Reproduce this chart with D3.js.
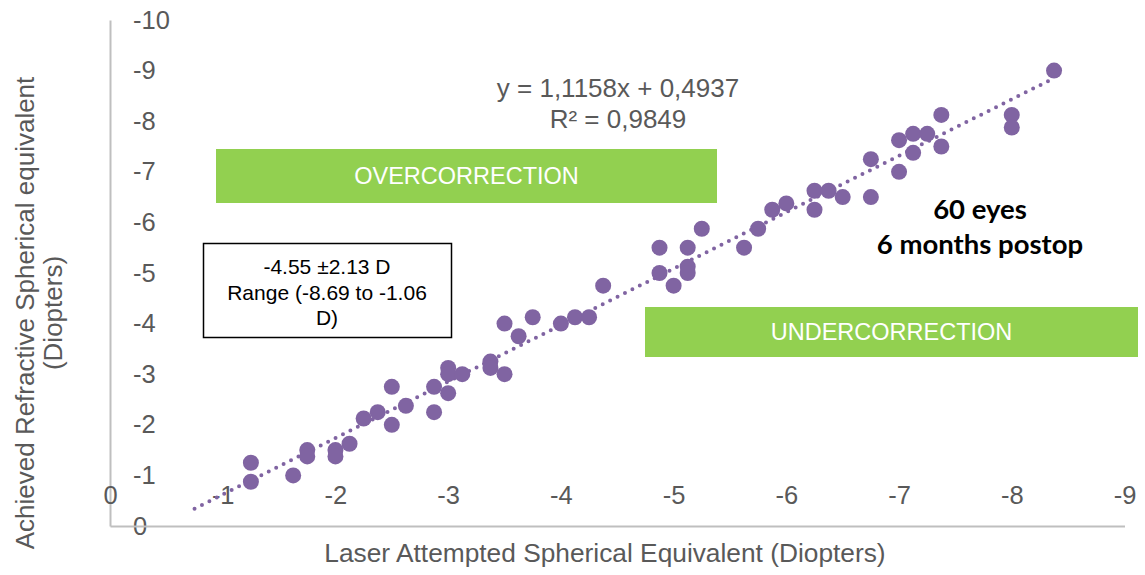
<!DOCTYPE html>
<html>
<head>
<meta charset="utf-8">
<script src="https://cdn.jsdelivr.net/npm/d3@7"></script>
<style>
  html, body { margin: 0; padding: 0; background: #fff; }
  svg { display: block; }
</style>
</head>
<body>
<svg id="chart" width="1145" height="575"></svg>
<script>
// Attempted vs achieved spherical equivalent (D), one entry per eye
const attempted = [-1.25,-1.25,-1.625,-1.75,-1.75,-2,-2,-2.125,-2.25,-2.375,-2.5,-2.5,-2.625,-2.875,-2.875,-3,-3,-3,-3.125,-3.375,-3.375,-3.5,-3.5,-3.625,-3.75,-4,-4.125,-4.25,-4.375,-4.875,-4.875,-5,-5.125,-5.125,-5.125,-5.25,-5.625,-5.75,-5.875,-6,-6.25,-6.25,-6.375,-6.5,-6.75,-6.75,-7,-7,-7.125,-7.125,-7.25,-7.375,-7.375,-8,-8,-8.375];
const achieved  = [-1.25,-0.875,-1,-1.5,-1.375,-1.5,-1.375,-1.625,-2.125,-2.25,-2.75,-2,-2.375,-2.75,-2.25,-3.125,-3,-2.625,-3,-3.25,-3.125,-3,-4,-3.75,-4.125,-4,-4.125,-4.125,-4.75,-5.5,-5,-4.75,-5.5,-5.125,-5,-5.875,-5.5,-5.875,-6.25,-6.375,-6.625,-6.25,-6.625,-6.5,-7.25,-6.5,-7.625,-7,-7.75,-7.375,-7.75,-8.125,-7.5,-8.125,-7.875,-9];

// Axis ticks
const xTicks = [0,-1,-2,-3,-4,-5,-6,-7,-8,-9];
const yTicks = [0,-1,-2,-3,-4,-5,-6,-7,-8,-9,-10];

// Linear trend line
const trendSlope = 1.1158;
const trendIntercept = 0.4937;
const trendRange = [-0.75, -8.375];

// Text content
const equationLines = ["y = 1,1158x + 0,4937", "R² = 0,9849"];
const statsLines = ["-4.55 ±2.13 D", "Range (-8.69 to -1.06", "D)"];
const noteLines = ["60 eyes", "6 months postop"];
const xTitle = "Laser Attempted Spherical Equivalent (Diopters)";
const yTitleLines = ["Achieved Refractive Spherical equivalent", "(Diopters)"];

const purple = "#8064A2";
const green = "#92D050";
const grey = "#595959";
const axisGrey = "#BFBFBF";
const sans = "'Liberation Sans', Arial, sans-serif";

const svg = d3.select("#chart");

const x = d3.scaleLinear().domain([0, -9]).range([110, 1124.5]);
const y = d3.scaleLinear().domain([0, -10]).range([526, 20]);

// Plain hyphen-minus labels
const fmt = d => String(d);

// Y axis: line at x=0 with labels on its right side
const yAxis = svg.append("g")
  .attr("transform", `translate(${x(0)},0)`)
  .call(d3.axisRight(y).tickValues(yTicks).tickFormat(fmt)
    .tickSizeInner(0).tickSizeOuter(0).tickPadding(23));

// X axis: line at y=0 with labels drawn above it
const xAxis = svg.append("g")
  .attr("transform", `translate(0,${y(0)})`)
  .call(d3.axisTop(x).tickValues(xTicks).tickFormat(fmt)
    .tickSizeInner(0).tickSizeOuter(0).tickPadding(22));

[yAxis, xAxis].forEach(g => {
  g.select(".domain").attr("stroke", axisGrey).attr("stroke-width", 2);
  g.selectAll(".tick line").remove();
  g.selectAll(".tick text")
    .attr("fill", grey)
    .style("font-family", sans)
    .style("font-size", "25.5px");
});

// Axis titles
svg.append("text")
  .attr("x", 605).attr("y", 562)
  .attr("text-anchor", "middle")
  .attr("fill", grey)
  .style("font-family", sans).style("font-size", "26.3px")
  .text(xTitle);

const yTitle = svg.append("text")
  .attr("transform", "translate(0,313) rotate(-90)")
  .attr("text-anchor", "middle")
  .attr("fill", grey)
  .style("font-family", sans).style("font-size", "26px");
yTitle.selectAll("tspan").data(yTitleLines).join("tspan")
  .attr("x", 0)
  .attr("y", (d, i) => 34 + i * 27.5)
  .text(d => d);

// Region labels
const regions = [
  { label: "OVERCORRECTION", x0: 216, x1: 717, y0: 149, y1: 203 },
  { label: "UNDERCORRECTION", x0: 645, x1: 1138, y0: 307, y1: 357 }
];
regions.forEach(r => {
  svg.append("rect")
    .attr("x", r.x0).attr("y", r.y0)
    .attr("width", r.x1 - r.x0).attr("height", r.y1 - r.y0)
    .attr("fill", green);
  svg.append("text")
    .attr("x", (r.x0 + r.x1) / 2).attr("y", (r.y0 + r.y1) / 2)
    .attr("dy", "0.35em")
    .attr("text-anchor", "middle")
    .attr("fill", "#fff")
    .style("font-family", sans).style("font-size", "23.5px")
    .text(r.label);
});

// Summary box
svg.append("rect")
  .attr("x", 203.5).attr("y", 243.5)
  .attr("width", 248).attr("height", 94)
  .attr("fill", "#fff").attr("stroke", "#000").attr("stroke-width", 1.5);
svg.append("text")
  .attr("text-anchor", "middle")
  .attr("fill", "#000")
  .style("font-family", sans).style("font-size", "21px")
  .selectAll("tspan").data(statsLines).join("tspan")
  .attr("x", 327)
  .attr("y", (d, i) => 274 + i * 25.5)
  .text(d => d);

// Trend line
const trendPts = trendRange.map(v => [v, trendSlope * v + trendIntercept]);
svg.append("path")
  .attr("d", d3.line().x(d => x(d[0])).y(d => y(d[1]))(trendPts))
  .attr("fill", "none")
  .attr("stroke", purple)
  .attr("stroke-width", 4)
  .attr("stroke-linecap", "round")
  .attr("stroke-dasharray", "0 8.3");

// Data points
svg.append("g")
  .selectAll("circle")
  .data(attempted.map((a, i) => [a, achieved[i]]))
  .join("circle")
  .attr("cx", d => x(d[0]))
  .attr("cy", d => y(d[1]))
  .attr("r", 8)
  .attr("fill", purple);

// Regression equation
svg.append("text")
  .attr("text-anchor", "middle")
  .attr("fill", grey)
  .style("font-family", sans).style("font-size", "26px")
  .selectAll("tspan").data(equationLines).join("tspan")
  .attr("x", 618)
  .attr("y", (d, i) => 97 + i * 31)
  .text(d => d);

// Cohort note
svg.append("text")
  .attr("text-anchor", "middle")
  .attr("fill", "#000")
  .style("font-family", "Lato, 'Open Sans', sans-serif")
  .style("font-weight", "bold")
  .style("font-size", "27.5px")
  .selectAll("tspan").data(noteLines).join("tspan")
  .attr("x", 980)
  .attr("y", (d, i) => 219 + i * 35)
  .text(d => d);
</script>
</body>
</html>
